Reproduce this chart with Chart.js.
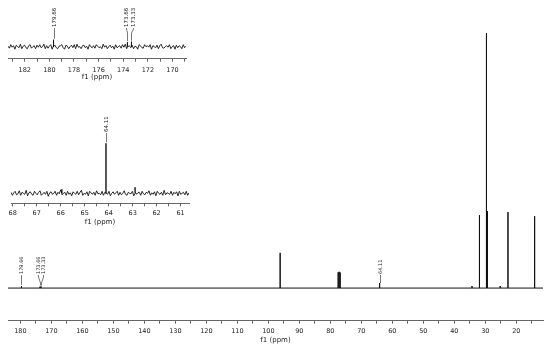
<!DOCTYPE html>
<html>
<head>
<meta charset="utf-8">
<script src="https://cdn.jsdelivr.net/npm/chart.js"></script>
<style>
  html, body { margin: 0; padding: 0; background: #fff; }
  #wrap { position: relative; width: 550px; height: 347px; }
  canvas { position: absolute; left: 0; }
</style>
</head>
<body>
<div id="wrap">
  <canvas id="main" width="550" height="347" style="top:0;width:550px;height:347px"></canvas>
  <canvas id="ins1" width="195" height="82" style="top:0;width:195px;height:82px"></canvas>
  <canvas id="ins2" width="195" height="136" style="top:90px;width:195px;height:136px"></canvas>
</div>
<script>
// 13C spectrum, full range (relative intensity, tallest line = 100)
const mainRange = [184.0, 11.4];
const mainPeakPpm = [179.66, 173.66, 173.33, 96.2, 77.48, 77.16, 76.84, 64.11, 34.3, 31.9, 29.7, 29.6, 29.4, 29.3, 25.2, 22.7, 14.1];
const mainPeakInt = [0.8, 0.6, 0.6, 13.8, 6.2, 6.4, 6.1, 2.0, 0.8, 28.6, 100, 30, 30.2, 28, 0.8, 29.8, 28.2];
const mainNoise = [0, 0];
const mainLabels = ['179.66', '173.66', '173.33', '64.11'];

// inset: carbonyl region
const ins1Range = [183.36, 168.9];
const ins1PeakPpm = [179.66, 173.66, 173.33];
const ins1PeakInt = [7, 4.5, 5];
const ins1Noise = [0.5,-1.5,2,-0.5,1,-2.5,1.5,0,-1,2.5,-2,0.5,1.5,-1,-2,1,2,-1.5,0,1,-2,1.5,-0.5,2,-1,0,2.5,-2,1,-1.5,0.5,2,-2.5,1,1.5,-1,-2,0.5,1,2,-1,-2.5,1.5,0.5,-2,0,1.5,-1,2,-2,2.5,-0.5,0,-2,1,1.5,-1,0.5,-2.5,2,0,-1,1,-1.5,2,0.5,-1,0,-2,2.5,-0.5,1,-2,0,1.5,-1,0.5,-2.5,2,-1,0,1,-1.5,2,-0.5,2.5,-2,0,1,-1,1.5,-2,0.5,0,-2.5,2,1,-1,-1.5,2,0,1,-0.5,2,-2.5,1,0,-1,1.5,-2,1,2.5,-1,-1.5,0,1,-0.5,2,-2,0,1,-2.5,1.5,-1,1,0,-2,2,-1,0.5];
const ins1Labels = ['179.66', '173.66', '173.33'];

// inset: 60-68 ppm region
const ins2Range = [68.07, 60.65];
const ins2PeakPpm = [65.95, 64.11, 62.9];
const ins2PeakInt = [4, 50, 6];
const ins2Noise = [1,-2,0.5,2,-1.5,-0.5,2.5,-2,1,0,-1,3,-2.5,0.5,1.5,-1,-2,2,0,-1.5,1,2.5,-2,-0.5,1,-1,2,-3,0.5,1.5,-1,0,2,-2,1,-0.5,3.5,-1.5,0,1,-2,2,-1,0.5,-2.5,1.5,0,-1,2,-1.5,1,3,-2,0,-1,1.5,-2.5,2,0.5,-1,1,-2,2.5,-0.5,0,-1.5,2,-2,1,0.5,-1,2,-2.5,0,1.5,-1,0.5,2,-2,1,-1.5,0,2.5,-1,-2,1,0,-0.5,2,-2.5,1.5,-1,0.5,1,-2,2,-0.5,-1.5,1,0,2.5,-2,0.5,-1,1.5,-2.5,2,0,-1,1,-2,3,-1.5,0.5,0,-1,2,-2,1,-0.5,1.5,-2.5,2,-1,0,1,-1.5,2,-2,0.5];
const ins2Labels = ['64.11'];

const FONT = '"DejaVu Sans", sans-serif';

// noise samples evenly over the range, plus a spike for each peak
function buildSpectrum(range, noise, ppm, ints) {
  const pts = [];
  const n = noise.length;
  noise.forEach((v, i) => pts.push({ x: range[0] - (range[0] - range[1]) * i / (n - 1), y: v }));
  ppm.forEach((p, k) => {
    pts.push({ x: p + 0.0001, y: 0 }, { x: p, y: ints[k] }, { x: p - 0.0001, y: 0 });
  });
  pts.sort((a, b) => b.x - a.x);
  return pts;
}

// rotated peak labels with leader lines
function labelPlugin(labels, ppm, ints, st) {
  return {
    id: 'peakLabels',
    afterDatasetsDraw(chart) {
      const { ctx, scales: { x, y } } = chart;
      const items = labels.map(t => {
        const p = parseFloat(t);
        const k = ppm.indexOf(p);
        return { t, px: x.getPixelForValue(p), top: y.getPixelForValue(k >= 0 ? ints[k] : 0) };
      }).sort((a, b) => a.px - b.px);
      // spread crowded labels
      const groups = [];
      items.forEach(it => {
        const g = groups[groups.length - 1];
        if (g && it.px - g[g.length - 1].px < st.gap) g.push(it); else groups.push([it]);
      });
      groups.forEach(g => {
        const c = g.reduce((s, it) => s + it.px, 0) / g.length;
        g.forEach((it, i) => { it.lx = c + (i - (g.length - 1) / 2) * st.gap; });
      });
      ctx.save();
      ctx.strokeStyle = '#555';
      ctx.lineWidth = 0.8;
      ctx.fillStyle = '#222';
      ctx.font = st.font + 'px ' + FONT;
      items.forEach(it => {
        const lx = Math.round(it.lx) + 0.5, px = Math.round(it.px) + 0.5;
        ctx.beginPath();
        ctx.moveTo(lx, st.bottom + 1);
        ctx.lineTo(lx, st.bottom + st.bend1);
        ctx.lineTo(px, st.bottom + st.bend2);
        ctx.lineTo(px, Math.min(it.top, chart.chartArea.bottom) - 1);
        ctx.stroke();
        ctx.save();
        ctx.translate(lx + 0.5, st.bottom);
        ctx.rotate(-Math.PI / 2);
        ctx.textAlign = 'left';
        ctx.textBaseline = 'middle';
        ctx.fillText(it.t, 0, 0);
        ctx.restore();
      });
      ctx.restore();
    }
  };
}

function xAxis(range, step, major, o) {
  return {
    type: 'linear', reverse: true, min: range[1], max: range[0],
    afterFit: s => { s.height = o.h; },
    border: { display: true, color: '#666', width: 1 },
    grid: { drawOnChartArea: false, drawTicks: true, tickLength: 3, color: '#666' },
    ticks: {
      stepSize: step, includeBounds: false, autoSkip: false, maxRotation: 0, maxTicksLimit: 200,
      padding: o.pad, color: '#222', font: { family: FONT, size: o.tick, lineHeight: 1 },
      callback: v => Math.abs(v / major - Math.round(v / major)) < 1e-6 ? String(Math.round(v)) : ''
    },
    title: { display: true, text: 'f1 (ppm)', color: '#222', padding: { top: 0, bottom: o.tpb },
      font: { family: FONT, size: o.title, lineHeight: 1.2 } }
  };
}

function makeChart(id, range, noise, ppm, ints, yMin, yMax, step, major, axisO, padding, lblPlugin, lw) {
  return new Chart(document.getElementById(id), {
    type: 'line',
    data: {
      datasets: [{
        data: buildSpectrum(range, noise, ppm, ints),
        borderColor: '#111', borderWidth: lw, pointRadius: 0, tension: 0, fill: false
      }]
    },
    options: {
      responsive: false, animation: false, devicePixelRatio: 1,
      layout: { padding },
      plugins: { legend: { display: false }, tooltip: { enabled: false } },
      scales: {
        x: xAxis(range, step, major, axisO),
        y: { display: false, min: yMin, max: yMax }
      }
    },
    plugins: [lblPlugin]
  });
}

makeChart('main', mainRange, mainNoise, mainPeakPpm, mainPeakInt, -12.8, 113, 5, 10,
  { h: 26.3, pad: 4, tick: 6.5, title: 7, tpb: 2.8 }, { left: 8, right: 7, top: 0, bottom: 0 },
  labelPlugin(mainLabels, mainPeakPpm, mainPeakInt, { gap: 5.5, font: 5, bottom: 274, bend1: 3, bend2: 9 }), 1);

makeChart('ins1', ins1Range, ins1Noise, ins1PeakPpm, ins1PeakInt, -12, 46.7, 1, 2,
  { h: 23.3, pad: 5, tick: 6.5, title: 7, tpb: 1.1 }, { left: 8, right: 9, top: 0, bottom: 0 },
  labelPlugin(ins1Labels, ins1PeakPpm, ins1PeakInt, { gap: 6.5, font: 5.5, bottom: 27, bend1: 2, bend2: 6 }), 0.9);

makeChart('ins2', ins2Range, ins2Noise, ins2PeakPpm, ins2PeakInt, -10, 103.3, 0.5, 1,
  { h: 22.7, pad: 3.75, tick: 6.5, title: 7, tpb: 0.1 }, { left: 11, right: 6, top: 0, bottom: 0 },
  labelPlugin(ins2Labels, ins2PeakPpm, ins2PeakInt, { gap: 6, font: 5.5, bottom: 42, bend1: 2, bend2: 2 }), 0.9);
</script>
</body>
</html>
